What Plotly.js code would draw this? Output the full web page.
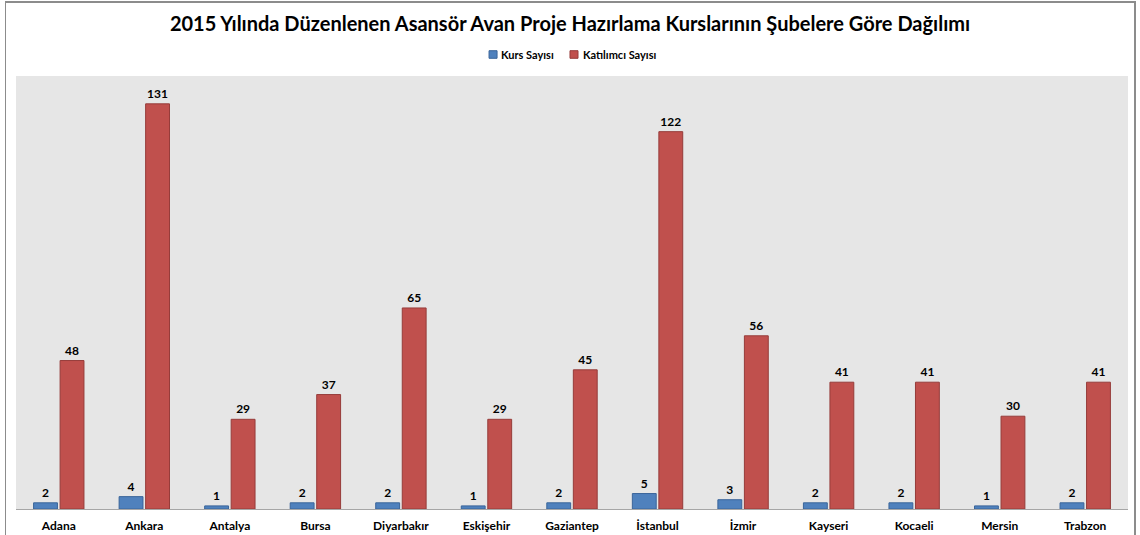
<!DOCTYPE html>
<html>
<head>
<meta charset="utf-8">
<script src="https://cdn.plot.ly/plotly-3.0.1.min.js"></script>
<style>
html,body{margin:0;padding:0;background:#fff;}
#wrap{position:relative;width:1140px;height:535px;}
#chart{position:absolute;left:0;top:0;width:1140px;height:535px;}
#frame{position:absolute;left:5px;top:1px;width:1131px;height:540px;border:1px solid #8c8c8c;pointer-events:none;box-sizing:border-box;border-width:2px 2px 0 1px;}
</style>
</head>
<body>
<div id="wrap"><div id="chart"></div><div id="frame"></div></div>
<script>
const categories = ["Adana","Ankara","Antalya","Bursa","Diyarbakır","Eskişehir","Gaziantep","İstanbul","İzmir","Kayseri","Kocaeli","Mersin","Trabzon"];
const kursSayisi = [2,4,1,2,2,1,2,5,3,2,2,1,2];
const katilimciSayisi = [48,131,29,37,65,29,45,122,56,41,41,30,41];
const seriesNames = ["Kurs Sayısı","Katılımcı Sayısı"];
const seriesColors = ["#4F81BD","#C0504D"];
const seriesLines = ["#3A659A","#963C3A"];

const FONT = "Lato, 'Open Sans', 'Liberation Sans', sans-serif";
const seriesValues = [kursSayisi, katilimciSayisi];
const traces = seriesValues.map((vals, i) => ({
  type:'bar', name:seriesNames[i], x:categories, y:vals,
  marker:{color:seriesColors[i], line:{color:seriesLines[i], width:1}},
  text:vals.map(String), textposition:'outside', cliponaxis:false,
  textfont:{family:FONT, size:12, color:'#000', weight:'bold'}
}));

// Custom compact legend (Excel style)
const legendPos = [
  {sx0:0.4254, sx1:0.4326, tx:0.4344},
  {sx0:0.4982, sx1:0.5054, tx:0.5081}
];
const shapes = legendPos.map((p, i) => ({
  type:'rect', xref:'paper', yref:'paper', x0:p.sx0, x1:p.sx1, y0:1.0409, y1:1.0584,
  fillcolor:seriesColors[i], line:{color:seriesLines[i], width:1}
}));
const annotations = legendPos.map((p, i) => ({
  xref:'paper', yref:'paper', x:p.tx, y:1.0485, xanchor:'left', yanchor:'middle',
  text:'<b>'+seriesNames[i]+'</b>', showarrow:false,
  font:{family:FONT, size:11, color:'#000'}
}));

const layout = {
  width:1140, height:535,
  margin:{l:16, r:12, t:76, b:26, pad:0},
  paper_bgcolor:'rgba(0,0,0,0)', plot_bgcolor:'#E6E6E6',
  font:{family:FONT, color:'#000'},
  title:{text:'<b>2015 Yılında Düzenlenen Asansör Avan Proje Hazırlama Kurslarının Şubelere Göre Dağılımı</b>',
    font:{family:FONT, size:20, color:'#000'}, x:0.5, xanchor:'center', y:0.955, yanchor:'middle', yref:'container'},
  showlegend:false,
  shapes:shapes, annotations:annotations,
  barmode:'group', bargap:0.38, bargroupgap:0.1,
  xaxis:{type:'category', showgrid:false, zeroline:false, showline:true, linecolor:'#A6A6A6', linewidth:1,
    ticks:'', tickfont:{family:FONT, size:12, color:'#000', weight:'bold'}, ticklabelstandoff:6, fixedrange:true},
  yaxis:{range:[0,140], showgrid:false, zeroline:false, showline:false, showticklabels:false, ticks:'', fixedrange:true}
};
Plotly.newPlot('chart', traces, layout, {displayModeBar:false, staticPlot:true});
</script>
</body>
</html>
